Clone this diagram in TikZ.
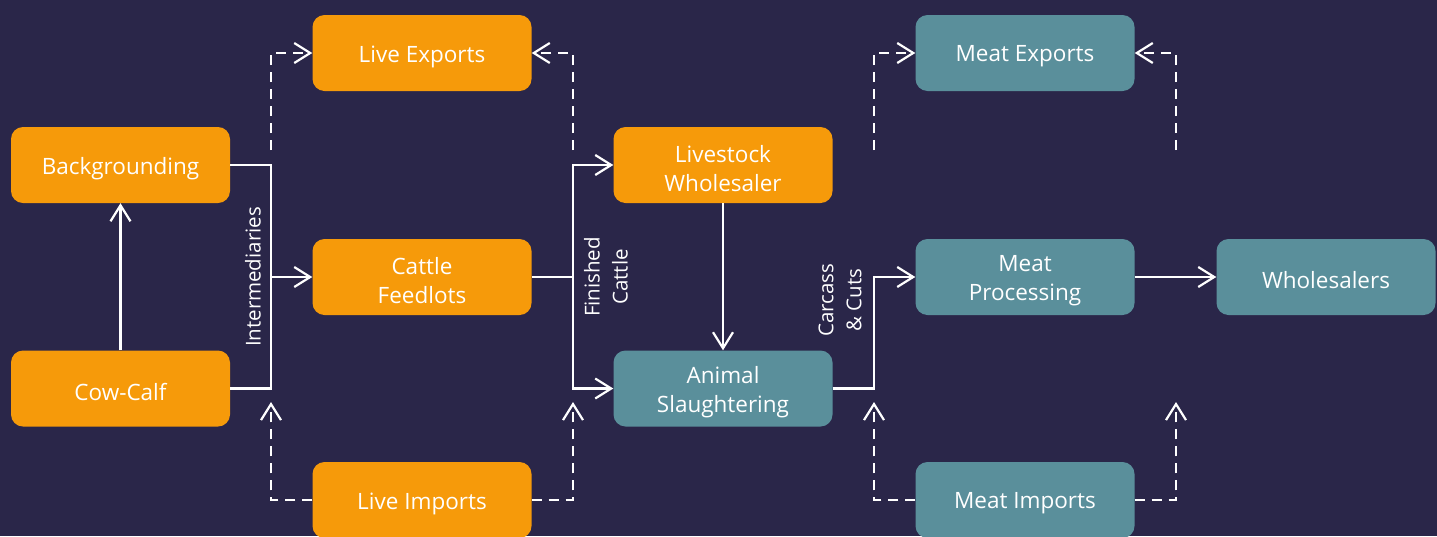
\documentclass[tikz,border=0pt]{standalone}
\usepackage{fontspec}
\setmainfont{Open Sans}
\usetikzlibrary{arrows.meta}
\definecolor{bgc}{HTML}{2A2649}
\definecolor{orng}{HTML}{F69A0A}
\definecolor{teal}{HTML}{5A8F9B}
\tikzset{
  box/.style={rounded corners=12pt, minimum width=219pt, minimum height=76pt, inner sep=2pt},
  obox/.style={box, fill=orng},
  tbox/.style={box, fill=teal},
  btxt/.style={text=white, align=center, font=\fontsize{22.5}{29}\selectfont, yshift=-3.5pt, inner sep=0pt},
  conn/.style={draw=white, line width=2.2pt},
  arr/.style={conn, -{Straight Barb[length=16pt,width=20pt,line width=2.2pt]}},
  dconn/.style={conn, dash pattern=on 10pt off 7pt},
  darr/.style={arr, dash pattern=on 10pt off 7pt},
  lbl/.style={text=white, align=center, rotate=90, font=\fontsize{20.5}{28}\selectfont, inner sep=0pt}
}
\begin{document}
\begin{tikzpicture}[x=1pt,y=-1pt]
\fill[bgc] (0,0) rectangle (1437,536);
\useasboundingbox (0,0) rectangle (1437,536);
% nodes
\node[obox, label={[btxt]center:Backgrounding}] (bg) at (120.5,165) {};
\node[obox, label={[btxt]center:Cow-Calf}] (cc) at (120.5,388.5) {};
\node[obox, label={[btxt]center:Live Exports}] (le) at (422,53) {};
\node[obox, label={[btxt]center:Cattle\\Feedlots}] (cf) at (422,277) {};
\node[obox, label={[btxt]center:Live Imports}] (li) at (422,500) {};
\node[obox, label={[btxt]center:Livestock\\Wholesaler}] (lw) at (723,165) {};
\node[tbox, label={[btxt]center:Animal\\Slaughtering}] (as) at (723,388.5) {};
\node[tbox, label={[btxt]center:Meat Exports}] (me) at (1025,53) {};
\node[tbox, label={[btxt]center:Meat\\Processing}] (mp) at (1025,277) {};
\node[tbox, label={[btxt]center:Wholesalers}] (ws) at (1326,277) {};
\node[tbox, label={[btxt]center:Meat Imports}] (mi) at (1025,500) {};
% junctions and free ends
\coordinate (j1) at (271,277);
\coordinate (j2) at (573,277);
\coordinate (j3) at (874,388.5);
\coordinate (d1) at (271,150);
\coordinate (d2) at (573,150);
\coordinate (d3) at (874,150);
\coordinate (d4) at (1176,150);
\coordinate (u1) at (271,402);
\coordinate (u2) at (573,402);
\coordinate (u3) at (874,402);
\coordinate (u4) at (1176,402);
% solid connectors
\draw[arr] (cc.north) -- (bg.south);
\draw[conn] (bg.east) -| (j1);
\draw[conn] (cc.east) -| (j1);
\draw[arr] (j1) -- (cf.west);
\draw[conn] (cf.east) -- (j2);
\draw[arr] (j2) |- (lw.west);
\draw[arr] (j2) |- (as.west);
\draw[arr] (lw.south) -- (as.north);
\draw[arr] (as.east) -- (j3) |- (mp.west);
\draw[arr] (mp.east) -- (ws.west);
% dashed connectors
\draw[darr] (d1) |- (le.west);
\draw[darr] (d2) |- (le.east);
\draw[darr] (d3) |- (me.west);
\draw[darr] (d4) |- (me.east);
\draw[darr] (li.west) -| (u1);
\draw[darr] (li.east) -| (u2);
\draw[darr] (mi.west) -| (u3);
\draw[darr] (mi.east) -| (u4);
% labels
\node[lbl] (l1) at (253,277) {Intermediaries};
\node[lbl] (l2) at (606,277) {Finished\\Cattle};
\node[lbl] (l3) at (840,300) {Carcass\\\& Cuts};
\end{tikzpicture}
\end{document}
